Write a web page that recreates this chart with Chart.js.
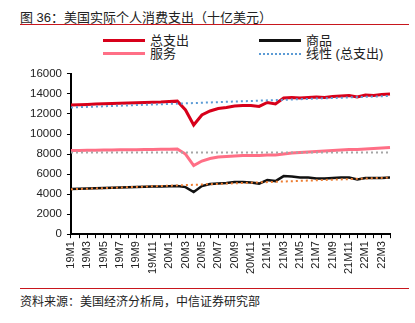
<!DOCTYPE html>
<html>
<head>
<meta charset="utf-8">
<script src="https://cdn.jsdelivr.net/npm/chart.js@4/dist/chart.umd.min.js"></script>
<style>
  body { margin: 0; width: 415px; height: 323px; background: #fff; position: relative; overflow: hidden;
         font-family: "Liberation Sans", "Noto Sans CJK SC", sans-serif; color: #222; }
  #title { position: absolute; left: 20px; top: 7px; font-size: 13px; }
  .rule { position: absolute; left: 20px; width: 389px; height: 1px; background: #c8161d; }
  #source { position: absolute; left: 20px; top: 292px; font-size: 12px; }
  .lg { position: absolute; font-size: 13px; line-height: 13px; }
  .lg i { position: absolute; display: block; width: 42px; }
  #wrap { position: absolute; left: 0; top: 62px; width: 415px; height: 215px; }
</style>
</head>
<body>
<div id="title">图 36：美国实际个人消费支出（十亿美元）</div>
<div class="rule" style="top:24px"></div>
<div class="lg" style="left:103px;top:34px"><i style="top:5px;border-top:3px solid #d7001a"></i><span style="margin-left:47px">总支出</span></div>
<div class="lg" style="left:103px;top:47px"><i style="top:5px;border-top:3px solid #ff6f86"></i><span style="margin-left:47px">服务</span></div>
<div class="lg" style="left:259px;top:34px"><i style="top:5px;border-top:3px solid #111"></i><span style="margin-left:47px">商品</span></div>
<div class="lg" style="left:259px;top:47px"><i style="top:6px;border-top:2px dotted #5b9bd5"></i><span style="margin-left:47px">线性 (总支出)</span></div>
<div id="wrap"><canvas id="chart"></canvas></div>
<div class="rule" style="top:288px"></div>
<div id="source">资料来源：美国经济分析局，中信证券研究部</div>
<script>
const months = [
  '19M1','19M2','19M3','19M4','19M5','19M6','19M7','19M8','19M9','19M10','19M11','19M12',
  '20M1','20M2','20M3','20M4','20M5','20M6','20M7','20M8','20M9','20M10','20M11','20M12',
  '21M1','21M2','21M3','21M4','21M5','21M6','21M7','21M8','21M9','21M10','21M11','21M12',
  '22M1','22M2','22M3','22M4'
];

const total = [
  12900, 12920, 12950, 12990, 13020, 13050, 13080, 13100, 13130, 13150, 13170, 13200,
  13250, 13280, 12400, 10900, 11900, 12300, 12550, 12650, 12800, 12850, 12850, 12750,
  13150, 13000, 13600, 13650, 13600, 13650, 13700, 13650, 13750, 13800, 13850, 13700,
  13900, 13850, 13950, 14000
];

const goods = [
  4500, 4530, 4560, 4590, 4620, 4640, 4670, 4690, 4710, 4730, 4750, 4770,
  4790, 4800, 4700, 4200, 4800, 5000, 5050, 5100, 5200, 5200, 5150, 5050,
  5400, 5300, 5800, 5750, 5650, 5650, 5550, 5550, 5600, 5650, 5650, 5450,
  5600, 5600, 5600, 5650
];

const services = [
  8350, 8360, 8370, 8390, 8400, 8410, 8420, 8430, 8440, 8450, 8460, 8470,
  8480, 8500, 8000, 6850, 7300, 7550, 7700, 7750, 7800, 7850, 7850, 7850,
  7900, 7900, 8000, 8100, 8150, 8200, 8250, 8300, 8350, 8400, 8450, 8450,
  8500, 8550, 8600, 8650
];

// trend lines: only the two end values, the line spans the gap
const totalTrend = [12650].concat(Array(38).fill(null), [13800]);
const goodsTrend = [4480].concat(Array(38).fill(null), [5650]);
const servicesTrend = [8150].concat(Array(38).fill(null), [8150]);

const yTicks = [0, 2000, 4000, 6000, 8000, 10000, 12000, 14000, 16000];

const ctx = document.getElementById('chart').getContext('2d');

new Chart(ctx, {
  type: 'line',
  data: {
    labels: months,
    datasets: [
      { label: '线性 (总支出)', data: totalTrend, borderColor: '#5b9bd5', borderWidth: 2, borderDash: [2, 3], spanGaps: true },
      { label: '线性 (商品)', data: goodsTrend, borderColor: '#ed7d31', borderWidth: 2, borderDash: [2, 3], spanGaps: true },
      { label: '线性 (服务)', data: servicesTrend, borderColor: '#a6a6a6', borderWidth: 2, borderDash: [2, 3], spanGaps: true },
      { label: '商品', data: goods, borderColor: '#111111', borderWidth: 2.5 },
      { label: '服务', data: services, borderColor: '#ff6f86', borderWidth: 3 },
      { label: '总支出', data: total, borderColor: '#d7001a', borderWidth: 3 }
    ]
  },
  options: {
    responsive: true,
    maintainAspectRatio: false,
    animation: false,
    elements: { point: { radius: 0 }, line: { tension: 0, fill: false } },
    layout: { padding: { left: 25, right: 25, top: 10, bottom: 0 } },
    plugins: { legend: { display: false }, tooltip: { enabled: false } },
    scales: {
      x: {
        offset: false,
        border: { color: '#000', width: 2 },
        grid: { display: true, drawOnChartArea: false, drawTicks: true, tickLength: 4, color: '#000' },
        ticks: {
          autoSkip: false,
          maxRotation: 90,
          minRotation: 90,
          color: '#222',
          font: { family: 'Liberation Sans', size: 11 },
          callback: function(value, index) { return index % 2 === 0 ? months[index] : ''; }
        }
      },
      y: {
        min: 0,
        max: 16000,
        afterBuildTicks: axis => { axis.ticks = yTicks.map(v => ({ value: v })); },
        border: { color: '#000', width: 2 },
        grid: { display: true, drawOnChartArea: false, drawTicks: true, tickLength: 4, color: '#000' },
        ticks: {
          color: '#222',
          padding: 5,
          font: { family: 'Liberation Sans', size: 11.5 },
          callback: value => String(value)
        }
      }
    }
  }
});
</script>
</body>
</html>
